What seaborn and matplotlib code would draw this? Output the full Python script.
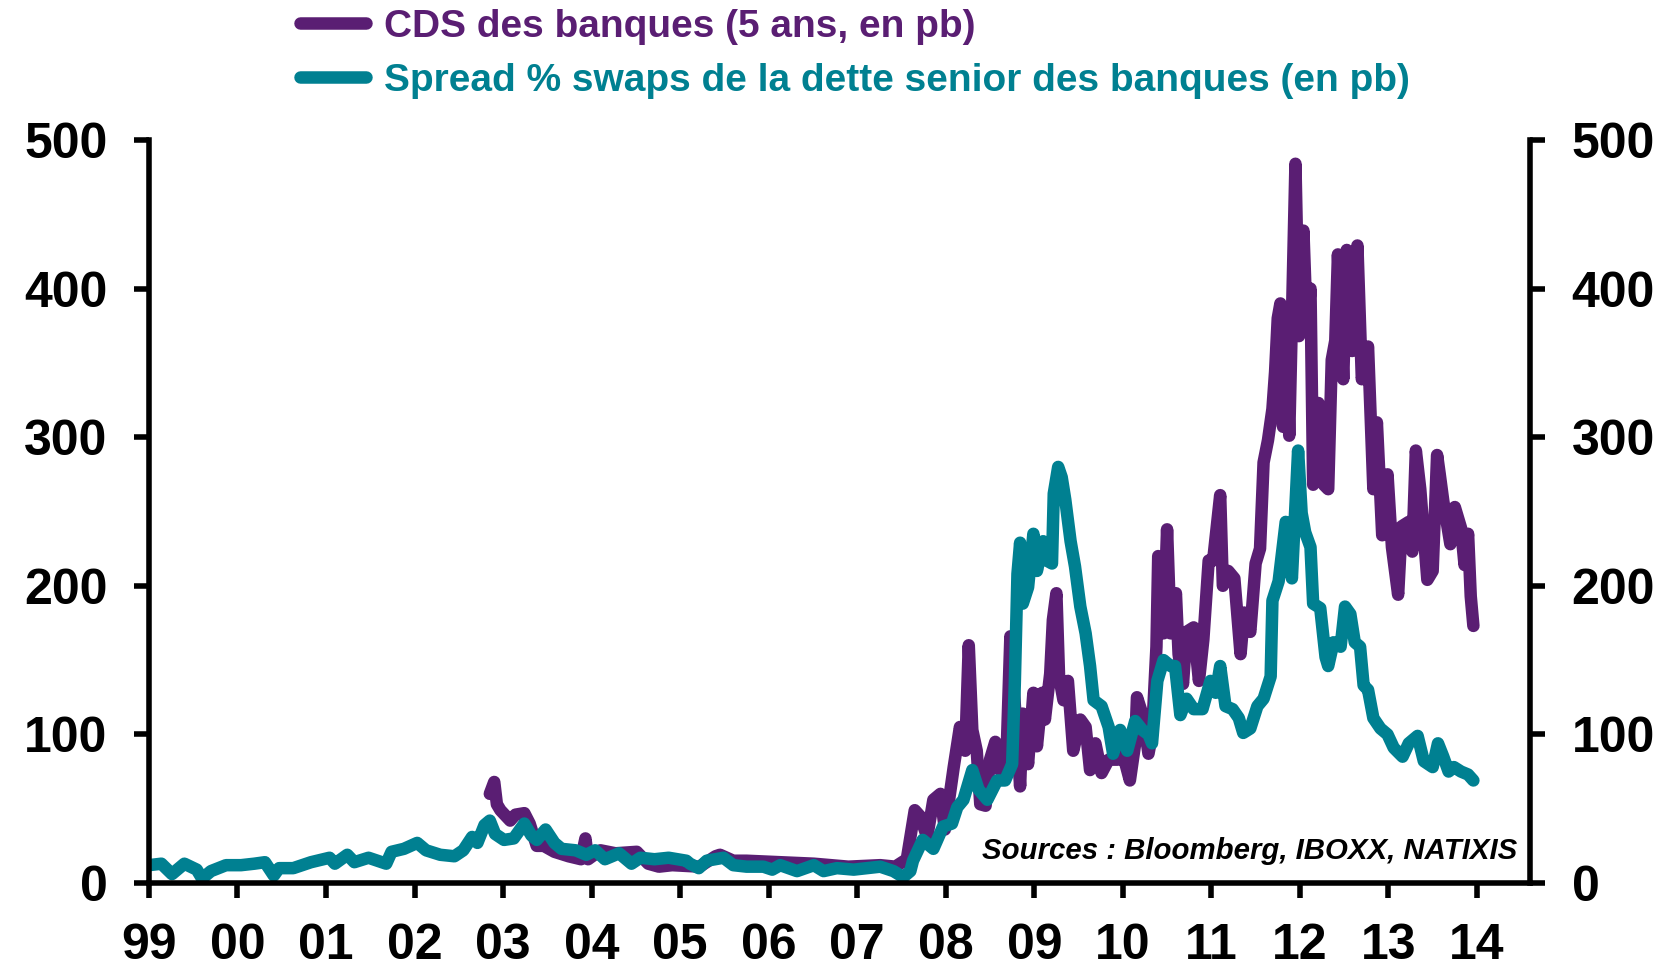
import pandas as pd
import matplotlib
matplotlib.use("Agg")
import matplotlib.pyplot as plt
import seaborn as sns

# Series (time in decimal years, values in bp)
cds_t = [2002.85, 2002.90, 2002.93, 2002.97, 2003.08, 2003.14, 2003.24, 2003.30, 2003.38, 2003.46,
         2003.58, 2003.74, 2003.88, 2003.93, 2003.96, 2004.10, 2004.27, 2004.51, 2004.64, 2004.76,
         2004.91, 2005.22, 2005.40, 2005.45, 2005.60, 2005.75, 2006.13, 2006.51, 2006.90, 2007.26,
         2007.43, 2007.56, 2007.65, 2007.71, 2007.79, 2007.86, 2007.94, 2007.99, 2008.09, 2008.16,
         2008.22, 2008.26, 2008.30, 2008.35, 2008.39, 2008.45, 2008.50, 2008.56, 2008.61, 2008.69,
         2008.73, 2008.84, 2008.87, 2008.93, 2008.95, 2008.99, 2009.03, 2009.09, 2009.12, 2009.18,
         2009.21, 2009.25, 2009.28, 2009.33, 2009.38, 2009.44, 2009.52, 2009.58, 2009.63, 2009.69,
         2009.76, 2009.84, 2009.94, 2010.00, 2010.08, 2010.14, 2010.16, 2010.23, 2010.29, 2010.33,
         2010.38, 2010.40, 2010.46, 2010.50, 2010.54, 2010.60, 2010.63, 2010.68, 2010.72, 2010.80,
         2010.86, 2010.91, 2010.97, 2011.02, 2011.10, 2011.13, 2011.19, 2011.26, 2011.33, 2011.37,
         2011.44, 2011.50, 2011.55, 2011.59, 2011.64, 2011.69, 2011.72, 2011.75, 2011.78, 2011.81,
         2011.84, 2011.88, 2011.95, 2011.99, 2012.04, 2012.08, 2012.12, 2012.15, 2012.21, 2012.27,
         2012.32, 2012.36, 2012.40, 2012.43, 2012.49, 2012.53, 2012.59, 2012.65, 2012.70, 2012.77,
         2012.83, 2012.87, 2012.93, 2012.99, 2013.04, 2013.11, 2013.15, 2013.23, 2013.27, 2013.31,
         2013.36, 2013.44, 2013.50, 2013.55, 2013.58, 2013.62, 2013.70, 2013.75, 2013.82, 2013.86,
         2013.90, 2013.93, 2013.96]
cds_v = [60, 68, 53, 49, 42, 46, 47, 40, 25, 25,
         21, 18, 16, 30, 16, 22, 20, 21, 13, 11,
         12, 11, 18, 19, 15, 15, 14, 13, 11, 12,
         11, 16, 49, 45, 31, 56, 60, 36, 78, 105,
         89, 160, 103, 89, 53, 52, 83, 95, 76, 92,
         166, 65, 114, 80, 96, 128, 92, 128, 110, 141,
         177, 195, 139, 123, 136, 89, 110, 105, 76, 94,
         74, 83, 83, 87, 69, 94, 125, 112, 87, 100,
         159, 220, 168, 238, 168, 195, 154, 134, 169, 172,
         136, 164, 217, 217, 261, 200, 210, 205, 154, 182,
         169, 215, 225, 283, 298, 319, 344, 380, 390, 307,
         384, 301, 484, 368, 439, 371, 400, 268, 323, 268,
         265, 352, 365, 423, 339, 426, 358, 429, 339, 361,
         265, 310, 234, 275, 226, 194, 240, 243, 223, 291,
         265, 204, 210, 288, 275, 257, 228, 253, 239, 214,
         235, 193, 173]

spread_t = [1999.00, 1999.14, 1999.26, 1999.40, 1999.54, 1999.60, 1999.70, 1999.87, 2000.04, 2000.19,
            2000.31, 2000.41, 2000.47, 2000.63, 2000.83, 2001.04, 2001.10, 2001.24, 2001.32, 2001.48,
            2001.68, 2001.74, 2001.88, 2002.03, 2002.13, 2002.29, 2002.45, 2002.55, 2002.65, 2002.71,
            2002.79, 2002.85, 2002.91, 2003.01, 2003.12, 2003.24, 2003.32, 2003.38, 2003.48, 2003.58,
            2003.66, 2003.82, 2003.94, 2004.04, 2004.15, 2004.31, 2004.45, 2004.55, 2004.71, 2004.87,
            2005.07, 2005.11, 2005.21, 2005.30, 2005.49, 2005.60, 2005.75, 2005.94, 2006.04, 2006.13,
            2006.32, 2006.51, 2006.62, 2006.77, 2006.96, 2007.11, 2007.26, 2007.41, 2007.52, 2007.60,
            2007.63, 2007.74, 2007.86, 2007.97, 2008.07, 2008.13, 2008.20, 2008.30, 2008.37, 2008.47,
            2008.58, 2008.67, 2008.75, 2008.78, 2008.81, 2008.84, 2008.87, 2008.93, 2008.99, 2009.03,
            2009.10, 2009.14, 2009.20, 2009.22, 2009.27, 2009.31, 2009.35, 2009.41, 2009.46, 2009.52,
            2009.58, 2009.63, 2009.67, 2009.76, 2009.84, 2009.89, 2009.97, 2010.05, 2010.14, 2010.22,
            2010.29, 2010.33, 2010.39, 2010.46, 2010.54, 2010.59, 2010.65, 2010.72, 2010.80, 2010.90,
            2010.99, 2011.05, 2011.10, 2011.16, 2011.24, 2011.31, 2011.36, 2011.44, 2011.52, 2011.59,
            2011.67, 2011.69, 2011.76, 2011.84, 2011.91, 2011.98, 2012.02, 2012.06, 2012.12, 2012.15,
            2012.23, 2012.29, 2012.32, 2012.38, 2012.46, 2012.51, 2012.57, 2012.62, 2012.68, 2012.72,
            2012.77, 2012.83, 2012.91, 2012.99, 2013.06, 2013.16, 2013.23, 2013.33, 2013.40, 2013.50,
            2013.56, 2013.62, 2013.68, 2013.74, 2013.82, 2013.90, 2013.96]
spread_v = [12, 13, 6, 13, 9, 3, 8, 12, 12, 13,
            14, 5, 10, 10, 14, 17, 13, 19, 14, 17,
            13, 21, 23, 27, 22, 19, 18, 22, 31, 27,
            39, 42, 33, 29, 30, 40, 32, 29, 36, 27,
            23, 22, 19, 22, 16, 20, 13, 17, 16, 17,
            15, 13, 10, 15, 17, 12, 11, 11, 9, 12,
            8, 12, 8, 10, 9, 10, 11, 8, 4, 8,
            15, 29, 23, 38, 40, 51, 56, 76, 63, 56,
            69, 69, 80, 134, 208, 229, 188, 199, 235, 210,
            230, 217, 215, 262, 280, 273, 258, 230, 213, 186,
            168, 146, 123, 119, 105, 87, 103, 89, 109, 103,
            100, 94, 136, 150, 146, 146, 113, 124, 117, 117,
            136, 128, 146, 119, 117, 111, 101, 104, 119, 124,
            139, 190, 203, 243, 205, 291, 249, 236, 226, 188,
            185, 152, 146, 162, 159, 186, 181, 162, 159, 133,
            130, 111, 104, 100, 91, 85, 94, 99, 82, 78,
            94, 85, 75, 78, 75, 73, 69]

year_ticks = list(range(1999, 2015))
year_labels = ["99", "00", "01", "02", "03", "04", "05", "06", "07",
               "08", "09", "10", "11", "12", "13", "14"]
y_ticks = [0, 100, 200, 300, 400, 500]

cds_label = "CDS des banques (5 ans, en pb)"
spread_label = "Spread % swaps de la dette senior des banques (en pb)"
source_text = "Sources : Bloomberg, IBOXX, NATIXIS"

purple = "#5a1e73"
teal = "#008091"

sns.set_theme(style="white")
plt.rcParams["font.family"] = ["Liberation Sans", "DejaVu Sans"]
plt.rcParams["font.weight"] = "bold"

cds = pd.DataFrame({"date": cds_t, "value": cds_v})
spread = pd.DataFrame({"date": spread_t, "value": spread_v})

fig = plt.figure(figsize=(16.7, 9.68), dpi=100)
ax = fig.add_axes([0.0892, 0.0878, 0.827, 0.7676])

sns.lineplot(data=cds, x="date", y="value", ax=ax, color=purple, lw=9,
             label=cds_label, solid_joinstyle="round", solid_capstyle="round")
sns.lineplot(data=spread, x="date", y="value", ax=ax, color=teal, lw=9,
             label=spread_label, solid_joinstyle="round", solid_capstyle="round")
for line in ax.get_lines():
    line.set_linewidth(9)

ax.set_xlim(1999, 2014.6)
ax.set_ylim(0, 500)
ax.set_xticks(year_ticks)
ax.set_xticklabels(year_labels)
ax.set_yticks(y_ticks)
ax.set_xlabel("")
ax.set_ylabel("")

for side in ["left", "bottom", "right"]:
    ax.spines[side].set_visible(True)
    ax.spines[side].set_linewidth(4)
    ax.spines[side].set_color("black")
ax.spines["top"].set_visible(False)

ax.tick_params(axis="both", which="major", direction="out", length=11, width=4,
               color="black", labelsize=36, labelcolor="black")
ax.tick_params(axis="y", left=True, right=True, labelleft=True, labelright=True, pad=19)
ax.tick_params(axis="x", bottom=True, pad=18)
ax.grid(False)

ax.text(0.991, 0.043, source_text, transform=ax.transAxes, ha="right", va="center",
        fontsize=21.2, fontweight="bold", fontstyle="italic", color="black")

# legend above the plot, text coloured like the lines
ax.get_legend().remove()
handles, labels = ax.get_legend_handles_labels()
leg = fig.legend(handles, labels, loc="upper left", bbox_to_anchor=(300 / 1670, 0.991),
                 frameon=False, fontsize=28, handlelength=1.7, handletextpad=0.45,
                 labelspacing=0.47, borderpad=0, borderaxespad=0)
for line in leg.get_lines():
    line.set_linewidth(9)
for text, col in zip(leg.get_texts(), [purple, teal]):
    text.set_color(col)

fig.savefig("out.png", dpi=100)
